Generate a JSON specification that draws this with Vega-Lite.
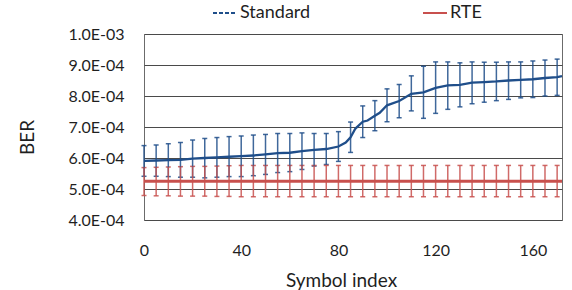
{
  "$schema": "https://vega.github.io/schema/vega-lite/v6.json",
  "width": 418,
  "height": 186,
  "autosize": "none",
  "padding": {"left": 144, "top": 34, "right": 10, "bottom": 70},
  "background": "white",
  "config": {
    "view": {"stroke": "#6b6b6b", "strokeWidth": 1},
    "font": "Lato"
  },
  "data": {
    "values": [
      {"series": "Standard", "x": 0, "y": 5.91e-4, "lo": 5.41e-4, "hi": 6.40e-4},
      {"series": "Standard", "x": 5, "y": 5.92e-4, "lo": 5.41e-4, "hi": 6.42e-4},
      {"series": "Standard", "x": 10, "y": 5.93e-4, "lo": 5.40e-4, "hi": 6.46e-4},
      {"series": "Standard", "x": 15, "y": 5.94e-4, "lo": 5.38e-4, "hi": 6.50e-4},
      {"series": "Standard", "x": 20, "y": 5.98e-4, "lo": 5.38e-4, "hi": 6.58e-4},
      {"series": "Standard", "x": 25, "y": 6.00e-4, "lo": 5.36e-4, "hi": 6.63e-4},
      {"series": "Standard", "x": 30, "y": 6.02e-4, "lo": 5.38e-4, "hi": 6.66e-4},
      {"series": "Standard", "x": 35, "y": 6.04e-4, "lo": 5.40e-4, "hi": 6.69e-4},
      {"series": "Standard", "x": 40, "y": 6.06e-4, "lo": 5.40e-4, "hi": 6.71e-4},
      {"series": "Standard", "x": 45, "y": 6.08e-4, "lo": 5.43e-4, "hi": 6.74e-4},
      {"series": "Standard", "x": 50, "y": 6.12e-4, "lo": 5.47e-4, "hi": 6.76e-4},
      {"series": "Standard", "x": 55, "y": 6.16e-4, "lo": 5.53e-4, "hi": 6.79e-4},
      {"series": "Standard", "x": 60, "y": 6.17e-4, "lo": 5.56e-4, "hi": 6.79e-4},
      {"series": "Standard", "x": 65, "y": 6.22e-4, "lo": 5.63e-4, "hi": 6.81e-4},
      {"series": "Standard", "x": 70, "y": 6.26e-4, "lo": 5.74e-4, "hi": 6.79e-4},
      {"series": "Standard", "x": 75, "y": 6.29e-4, "lo": 5.79e-4, "hi": 6.79e-4},
      {"series": "Standard", "x": 80, "y": 6.37e-4, "lo": 5.89e-4, "hi": 6.85e-4},
      {"series": "Standard", "x": 83, "y": 6.50e-4},
      {"series": "Standard", "x": 85, "y": 6.67e-4, "lo": 6.18e-4, "hi": 7.16e-4},
      {"series": "Standard", "x": 87, "y": 6.95e-4},
      {"series": "Standard", "x": 90, "y": 7.17e-4, "lo": 6.66e-4, "hi": 7.68e-4},
      {"series": "Standard", "x": 92, "y": 7.21e-4},
      {"series": "Standard", "x": 95, "y": 7.36e-4, "lo": 6.88e-4, "hi": 7.85e-4},
      {"series": "Standard", "x": 97, "y": 7.46e-4},
      {"series": "Standard", "x": 100, "y": 7.70e-4, "lo": 7.17e-4, "hi": 8.23e-4},
      {"series": "Standard", "x": 105, "y": 7.84e-4, "lo": 7.30e-4, "hi": 8.37e-4},
      {"series": "Standard", "x": 110, "y": 8.07e-4, "lo": 7.52e-4, "hi": 8.65e-4},
      {"series": "Standard", "x": 115, "y": 8.12e-4, "lo": 7.28e-4, "hi": 8.96e-4},
      {"series": "Standard", "x": 120, "y": 8.26e-4, "lo": 7.44e-4, "hi": 9.10e-4},
      {"series": "Standard", "x": 125, "y": 8.34e-4, "lo": 7.57e-4, "hi": 9.10e-4},
      {"series": "Standard", "x": 130, "y": 8.36e-4, "lo": 7.65e-4, "hi": 9.07e-4},
      {"series": "Standard", "x": 135, "y": 8.43e-4, "lo": 7.75e-4, "hi": 9.10e-4},
      {"series": "Standard", "x": 140, "y": 8.45e-4, "lo": 7.80e-4, "hi": 9.09e-4},
      {"series": "Standard", "x": 145, "y": 8.47e-4, "lo": 7.85e-4, "hi": 9.09e-4},
      {"series": "Standard", "x": 150, "y": 8.50e-4, "lo": 7.89e-4, "hi": 9.10e-4},
      {"series": "Standard", "x": 155, "y": 8.52e-4, "lo": 7.94e-4, "hi": 9.10e-4},
      {"series": "Standard", "x": 160, "y": 8.54e-4, "lo": 7.95e-4, "hi": 9.13e-4},
      {"series": "Standard", "x": 165, "y": 8.58e-4, "lo": 8.00e-4, "hi": 9.16e-4},
      {"series": "Standard", "x": 170, "y": 8.61e-4, "lo": 8.02e-4, "hi": 9.19e-4},
      {"series": "Standard", "x": 172, "y": 8.64e-4},
      {"series": "RTE", "x": 0, "y": 5.25e-4, "lo": 4.79e-4, "hi": 5.69e-4},
      {"series": "RTE", "x": 5, "y": 5.25e-4, "lo": 4.78e-4, "hi": 5.70e-4},
      {"series": "RTE", "x": 10, "y": 5.25e-4, "lo": 4.78e-4, "hi": 5.71e-4},
      {"series": "RTE", "x": 15, "y": 5.25e-4, "lo": 4.77e-4, "hi": 5.72e-4},
      {"series": "RTE", "x": 20, "y": 5.25e-4, "lo": 4.77e-4, "hi": 5.73e-4},
      {"series": "RTE", "x": 25, "y": 5.25e-4, "lo": 4.77e-4, "hi": 5.73e-4},
      {"series": "RTE", "x": 30, "y": 5.25e-4, "lo": 4.76e-4, "hi": 5.74e-4},
      {"series": "RTE", "x": 35, "y": 5.25e-4, "lo": 4.76e-4, "hi": 5.75e-4},
      {"series": "RTE", "x": 40, "y": 5.25e-4, "lo": 4.75e-4, "hi": 5.76e-4},
      {"series": "RTE", "x": 45, "y": 5.25e-4, "lo": 4.75e-4, "hi": 5.76e-4},
      {"series": "RTE", "x": 50, "y": 5.25e-4, "lo": 4.75e-4, "hi": 5.76e-4},
      {"series": "RTE", "x": 55, "y": 5.25e-4, "lo": 4.75e-4, "hi": 5.76e-4},
      {"series": "RTE", "x": 60, "y": 5.25e-4, "lo": 4.75e-4, "hi": 5.76e-4},
      {"series": "RTE", "x": 65, "y": 5.25e-4, "lo": 4.75e-4, "hi": 5.76e-4},
      {"series": "RTE", "x": 70, "y": 5.25e-4, "lo": 4.75e-4, "hi": 5.76e-4},
      {"series": "RTE", "x": 75, "y": 5.25e-4, "lo": 4.75e-4, "hi": 5.76e-4},
      {"series": "RTE", "x": 80, "y": 5.25e-4, "lo": 4.75e-4, "hi": 5.76e-4},
      {"series": "RTE", "x": 85, "y": 5.25e-4, "lo": 4.75e-4, "hi": 5.76e-4},
      {"series": "RTE", "x": 90, "y": 5.25e-4, "lo": 4.75e-4, "hi": 5.76e-4},
      {"series": "RTE", "x": 95, "y": 5.25e-4, "lo": 4.75e-4, "hi": 5.76e-4},
      {"series": "RTE", "x": 100, "y": 5.25e-4, "lo": 4.75e-4, "hi": 5.76e-4},
      {"series": "RTE", "x": 105, "y": 5.25e-4, "lo": 4.75e-4, "hi": 5.76e-4},
      {"series": "RTE", "x": 110, "y": 5.25e-4, "lo": 4.75e-4, "hi": 5.76e-4},
      {"series": "RTE", "x": 115, "y": 5.25e-4, "lo": 4.75e-4, "hi": 5.76e-4},
      {"series": "RTE", "x": 120, "y": 5.25e-4, "lo": 4.75e-4, "hi": 5.76e-4},
      {"series": "RTE", "x": 125, "y": 5.25e-4, "lo": 4.75e-4, "hi": 5.76e-4},
      {"series": "RTE", "x": 130, "y": 5.25e-4, "lo": 4.75e-4, "hi": 5.76e-4},
      {"series": "RTE", "x": 135, "y": 5.25e-4, "lo": 4.75e-4, "hi": 5.76e-4},
      {"series": "RTE", "x": 140, "y": 5.25e-4, "lo": 4.75e-4, "hi": 5.76e-4},
      {"series": "RTE", "x": 145, "y": 5.25e-4, "lo": 4.75e-4, "hi": 5.76e-4},
      {"series": "RTE", "x": 150, "y": 5.25e-4, "lo": 4.75e-4, "hi": 5.76e-4},
      {"series": "RTE", "x": 155, "y": 5.25e-4, "lo": 4.75e-4, "hi": 5.76e-4},
      {"series": "RTE", "x": 160, "y": 5.25e-4, "lo": 4.75e-4, "hi": 5.76e-4},
      {"series": "RTE", "x": 165, "y": 5.25e-4, "lo": 4.75e-4, "hi": 5.76e-4},
      {"series": "RTE", "x": 170, "y": 5.25e-4, "lo": 4.75e-4, "hi": 5.76e-4},
      {"series": "RTE", "x": 172, "y": 5.25e-4}
    ]
  },
  "encoding": {
    "x": {
      "field": "x",
      "type": "quantitative",
      "scale": {"domain": [0, 172], "nice": false, "zero": false},
      "axis": {
        "title": "Symbol index",
        "values": [0, 40, 80, 120, 160],
        "grid": false,
        "ticks": false,
        "domain": false,
        "labelFont": "Lato",
        "labelFontSize": 16,
        "labelColor": "#1f1f1f",
        "labelBaseline": "alphabetic",
        "labelPadding": 35,
        "labelFlush": false,
        "labelOverlap": false,
        "titleFont": "Lato",
        "titleFontSize": 19,
        "titleFontWeight": "normal",
        "titleColor": "#1f1f1f",
        "titleX": 197,
        "titleY": 66,
        "titleBaseline": "alphabetic",
        "titleAnchor": null,
        "titleAlign": "center"
      }
    },
    "color": {
      "field": "series",
      "type": "nominal",
      "scale": {"domain": ["Standard", "RTE"], "range": ["#1f4e8a", "#c8504d"]},
      "legend": {
        "orient": "none",
        "legendX": 68,
        "legendY": -34,
        "direction": "horizontal",
        "title": null,
        "padding": 0,
        "symbolType": "stroke",
        "symbolSize": 576,
        "symbolStrokeWidth": 2,
        "symbolOpacity": 1,
        "labelFont": "Lato",
        "labelFontSize": 18,
        "labelColor": "#1f1f1f",
        "labelOffset": 2,
        "columnPadding": 108,
        "encode": {
          "symbols": {
            "update": {
              "strokeDash": {"signal": "datum.value === 'Standard' ? [4, 2] : [100, 0]"}
            }
          }
        }
      }
    }
  },
  "layer": [
    {
      "transform": [{"filter": "isValid(datum.lo)"}],
      "mark": {
        "type": "errorbar",
        "thickness": 1.5,
        "rule": {"opacity": 0.85},
        "ticks": {"size": 5, "opacity": 0.85}
      },
      "encoding": {
        "y": {
          "field": "lo",
          "type": "quantitative",
          "scale": {"domain": [0.0004, 0.001], "nice": false, "zero": false},
          "axis": {
            "title": "BER",
            "values": [0.0004, 0.0005, 0.0006, 0.0007, 0.0008, 0.0009, 0.001],
            "labelExpr": "datum.value > 0.00095 ? '1.0E-03' : format(datum.value * 10000, '.1f') + 'E-04'",
            "grid": true,
            "gridColor": "#4a4a4a",
            "gridWidth": 1,
            "gridOpacity": 1,
            "ticks": false,
            "domain": false,
            "labelFont": "Lato",
            "labelFontSize": 16,
            "labelColor": "#1f1f1f",
            "labelPadding": 20,
            "labelFlush": false,
            "labelOverlap": false,
            "titleFont": "Lato",
            "titleFontSize": 19,
            "titleFontWeight": "normal",
            "titleColor": "#1f1f1f",
            "titleX": -117,
            "titleY": 103,
            "titleAngle": -90,
            "titleBaseline": "middle",
            "titleAlign": "center",
            "titleAnchor": null
          }
        },
        "y2": {"field": "hi"}
      }
    },
    {
      "mark": {"type": "line", "strokeCap": "butt"},
      "encoding": {
        "strokeWidth": {"condition": {"test": "datum.series === 'RTE'", "value": 3}, "value": 2.3},
        "y": {
          "field": "y",
          "type": "quantitative",
          "scale": {"domain": [0.0004, 0.001], "nice": false, "zero": false},
          "axis": {
            "title": "BER",
            "values": [0.0004, 0.0005, 0.0006, 0.0007, 0.0008, 0.0009, 0.001],
            "labelExpr": "datum.value > 0.00095 ? '1.0E-03' : format(datum.value * 10000, '.1f') + 'E-04'",
            "grid": true,
            "gridColor": "#4a4a4a",
            "gridWidth": 1,
            "gridOpacity": 1,
            "ticks": false,
            "domain": false,
            "labelFont": "Lato",
            "labelFontSize": 16,
            "labelColor": "#1f1f1f",
            "labelPadding": 20,
            "labelFlush": false,
            "labelOverlap": false,
            "titleFont": "Lato",
            "titleFontSize": 19,
            "titleFontWeight": "normal",
            "titleColor": "#1f1f1f",
            "titleX": -117,
            "titleY": 103,
            "titleAngle": -90,
            "titleBaseline": "middle",
            "titleAlign": "center",
            "titleAnchor": null
          }
        }
      }
    }
  ]
}
